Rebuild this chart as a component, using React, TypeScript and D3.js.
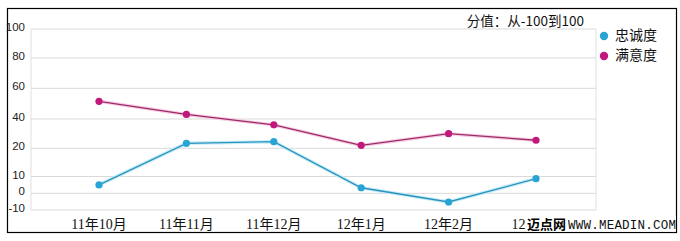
import React from "react";
import * as d3 from "d3";

const categories = ["11年10月", "11年11月", "11年12月", "12年1月", "12年2月", "12年3月"];
const loyalty = [5, 23.4, 24.5, 3.3, -5.2, 8.7];
const satisfaction = [51.5, 43, 36, 22, 30, 25.5];
const yTicks = [-10, 0, 10, 20, 40, 60, 80, 100];
const seriesNames = ["忠诚度", "满意度"];
const title = "分值：从-100到100";

const W = 680;
const H = 241;
const plotL = 31;
const plotR = 596;
const colors = ["#27a4d4", "#c2177c"];
const lineColors = ["#2a93bd", "#9c2a66"];
const haloColors = ["#c6ecf8", "#f7cde4"];

export default function App() {
  const x = d3.scalePoint<string>().domain(categories).range([99, 536]).padding(0);
  const y = d3
    .scaleLinear()
    .domain(yTicks)
    .range([210, 193.3, 176.5, 148.3, 119, 88.3, 58, 29]);

  const line = d3
    .line<number>()
    .x((_, i) => x(categories[i]) as number)
    .y((d) => y(d));

  const series = [loyalty, satisfaction];

  return (
    <svg
      width={W}
      height={H}
      style={{ position: "absolute", left: 0, top: 0, background: "#fff" }}
    >
      <rect x={0} y={0} width={W} height={H} fill="#fff" />
      <rect x={7.5} y={8.5} width={669} height={224} fill="#fff" stroke="#000" strokeWidth={1.2} />
      {/* gridlines */}
      {yTicks.map((t) => (
        <line key={t} x1={plotL} x2={plotR} y1={y(t)} y2={y(t)} stroke="#d9d9d9" strokeWidth={1} />
      ))}
      <line x1={plotL} x2={plotL} y1={y(100)} y2={y(-10)} stroke="#e0e0e0" />
      <line x1={plotR} x2={plotR} y1={y(100)} y2={y(-10)} stroke="#e0e0e0" />
      {/* y ticks */}
      {yTicks.map((t) => (
        <text
          key={t}
          x={25}
          y={y(t) - 1}
          textAnchor="end"
          dominantBaseline="middle"
          fontFamily="Liberation Sans, Arial, sans-serif"
          fontSize={11.5}
          fill="#222"
        >
          {t}
        </text>
      ))}
      {/* lines */}
      {series.map((s, si) => (
        <g key={si}>
          <path d={line(s) || ""} fill="none" stroke={haloColors[si]} strokeWidth={3.5} />
          <path d={line(s) || ""} fill="none" stroke={lineColors[si]} strokeWidth={1.3} />
          {s.map((v, i) => (
            <circle key={i} cx={x(categories[i])} cy={y(v)} r={3.6} fill={colors[si]} />
          ))}
        </g>
      ))}
      {/* x labels */}
      {categories.map((c) => (
        <text
          key={c}
          x={x(c)}
          y={229}
          textAnchor="middle"
          fontFamily="Liberation Serif, Noto Sans CJK SC, serif"
          fontSize={14}
          fill="#111"
        >
          {c}
        </text>
      ))}
      {/* title */}
      <text
        x={584}
        y={26}
        textAnchor="end"
        fontFamily="Noto Sans CJK SC, sans-serif"
        fontSize={13.5}
        fill="#111"
      >
        {title}
      </text>
      {/* legend */}
      {seriesNames.map((n, i) => (
        <g key={n} transform={`translate(604,${36 + i * 20})`}>
          <circle cx={0} cy={0} r={4.2} fill={colors[i]} />
          <text
            x={11}
            y={0}
            dominantBaseline="middle"
            fontFamily="Noto Sans CJK SC, sans-serif"
            fontSize={14}
            fill="#111"
          >
            {n}
          </text>
        </g>
      ))}
      {/* watermark */}
      <rect x={526} y={216} width={150} height={15.5} fill="#fff" />
      <text x={527} y={229} fontFamily="Noto Sans CJK SC, sans-serif" fontWeight="bold" fontSize={13} fill="#000">
        迈点网
      </text>
      <text x={568} y={229} fontFamily="Liberation Mono, monospace" fontSize={12.5} fill="#111" textLength={108}>
        WWW.MEADIN.COM
      </text>
    </svg>
  );
}
